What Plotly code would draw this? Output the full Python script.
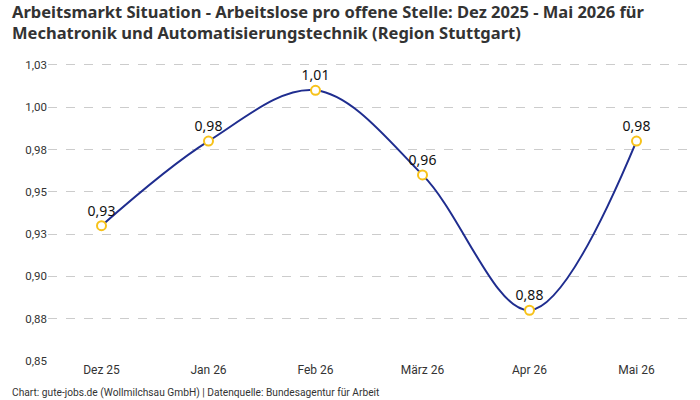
import plotly.graph_objects as go

months = ["Dez 25", "Jan 26", "Feb 26", "März 26", "Apr 26", "Mai 26"]
values = [0.93, 0.98, 1.01, 0.96, 0.88, 0.98]
tick_vals = [0.85, 0.875, 0.9, 0.925, 0.95, 0.975, 1.0, 1.025]

labels = [f"{v:.2f}".replace(".", ",") for v in values]
tick_text = [f"{v:.2f}".replace(".", ",") for v in [0.85, 0.88, 0.90, 0.93, 0.95, 0.98, 1.00, 1.03]]

FONT = "Roboto"
FONT2 = "Noto Sans"

fig = go.Figure()
fig.add_trace(go.Scatter(
    x=months, y=values,
    mode="lines+markers+text",
    line=dict(color="#1f2d8f", width=2, shape="spline", smoothing=1),
    marker=dict(size=9, color="white", line=dict(color="#f7c21a", width=2)),
    text=labels, textposition="top center",
    textfont=dict(family=FONT2, size=14, color="#111"),
    hoverinfo="skip",
))

fig.update_layout(
    width=700, height=400,
    margin=dict(l=48, r=10, t=48, b=39),
    paper_bgcolor="white", plot_bgcolor="white",
    showlegend=False,
    font=dict(family=FONT, color="#333"),
    annotations=[
        dict(
            text="<b>Arbeitsmarkt Situation - Arbeitslose pro offene Stelle: Dez 2025 - Mai 2026 für<br>Mechatronik und Automatisierungstechnik (Region Stuttgart)</b>",
            xref="paper", yref="paper", x=-0.059, y=1.159, xanchor="left", yanchor="top",
            align="left", showarrow=False,
            font=dict(family=FONT2, size=16.5, color="#333"),
        ),
        dict(
            text="Chart: gute-jobs.de (Wollmilchsau GmbH) | Datenquelle: Bundesagentur für Arbeit",
            xref="paper", yref="paper", x=-0.059, y=-0.102, xanchor="left", yanchor="middle",
            showarrow=False, font=dict(family=FONT, size=10.2, color="#333"),
        ),
    ],
)
fig.update_xaxes(
    range=[-0.5, 5.5], showgrid=False, showline=False, zeroline=False,
    ticks="", tickfont=dict(family=FONT, size=12, color="#333"),
)
fig.update_yaxes(
    range=[0.85, 1.035], tickvals=tick_vals, ticktext=tick_text,
    showgrid=True, gridcolor="#cccccc", griddash="dash", gridwidth=1,
    zeroline=False, showline=False, ticks="",
    tickfont=dict(family=FONT, size=11.5, color="#333"),
)
fig.write_html("out.html")
